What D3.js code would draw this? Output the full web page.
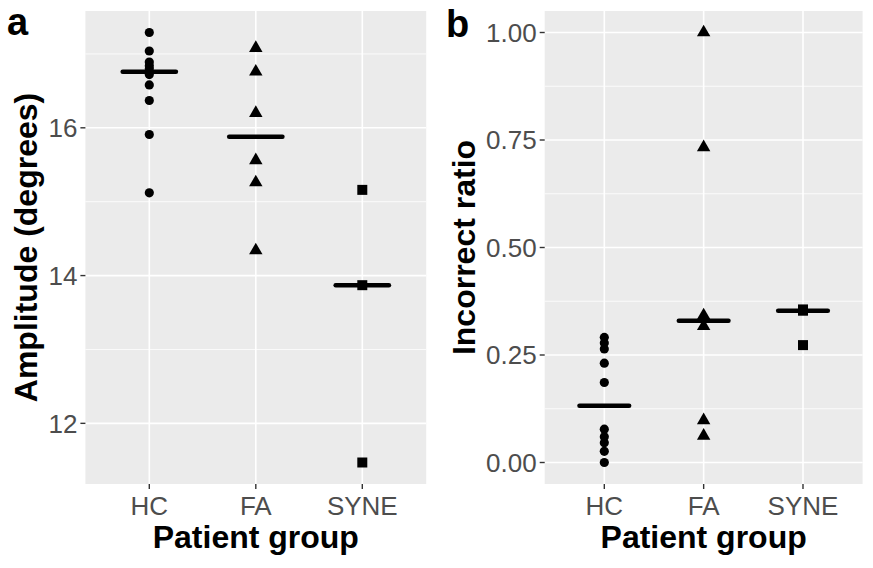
<!DOCTYPE html>
<html>
<head>
<meta charset="utf-8">
<script src="https://cdn.jsdelivr.net/npm/d3@7"></script>
<style>
  html, body { margin: 0; padding: 0; background: #fff; }
  svg { display: block; font-family: "Liberation Sans", Arial, Helvetica, sans-serif; }
</style>
</head>
<body>
<svg id="chart" width="873" height="568"></svg>
<script>
// ---- data ----
const groups = ["HC", "FA", "SYNE"];
const amplitudeHC = [17.29, 17.04, 16.89, 16.84, 16.80, 16.72, 16.58, 16.37, 15.91, 15.12];
const amplitudeFA = [17.08, 16.76, 16.20, 15.56, 15.26, 14.34];
const amplitudeSYNE = [15.16, 13.87, 11.47];
const ratioHC = [0.291, 0.278, 0.264, 0.231, 0.186, 0.0775, 0.060, 0.046, 0.026, 0.0];
const ratioFA = [1.0, 0.733, 0.342, 0.317, 0.098, 0.062];
const ratioSYNE = [0.356, 0.353, 0.273];
const amplitudeTicks = [12, 14, 16];
const amplitudeMinor = [13, 15, 17];
const ratioTicks = [0, 0.25, 0.5, 0.75, 1.0];
const ratioMinor = [0.125, 0.375, 0.625, 0.875];

const svg = d3.select("#chart");
const shapes = { HC: d3.symbolCircle, FA: d3.symbolTriangle, SYNE: d3.symbolSquare };
const sizes = { HC: 66, FA: 78, SYNE: 100 };

function panel(opts) {
  const { x0, x1, y0, y1, data, domain, ticks, minor, fmt, ytitle, ytitleX, label, labelX, labelY } = opts;
  const x = d3.scalePoint().domain(groups).range([x0, x1]).padding(0.6);
  const y = d3.scaleLinear().domain(domain).range([y1, y0]);
  const g = svg.append("g");
  g.append("rect").attr("x", x0).attr("y", y0).attr("width", x1 - x0).attr("height", y1 - y0).attr("fill", "#EBEBEB");
  // minor grid
  g.selectAll(".ming").data(minor).join("line")
    .attr("x1", x0).attr("x2", x1).attr("y1", d => y(d)).attr("y2", d => y(d))
    .attr("stroke", "#fff").attr("stroke-width", 0.8);
  // major grid
  g.selectAll(".majg").data(ticks).join("line")
    .attr("x1", x0).attr("x2", x1).attr("y1", d => y(d)).attr("y2", d => y(d))
    .attr("stroke", "#fff").attr("stroke-width", 1.6);
  g.selectAll(".xg").data(groups).join("line")
    .attr("x1", d => x(d)).attr("x2", d => x(d)).attr("y1", y0).attr("y2", y1)
    .attr("stroke", "#fff").attr("stroke-width", 1.6);
  // y axis ticks + labels
  g.selectAll(".yt").data(ticks).join("line")
    .attr("x1", x0 - 5).attr("x2", x0).attr("y1", d => y(d)).attr("y2", d => y(d))
    .attr("stroke", "#333").attr("stroke-width", 1.4);
  g.selectAll(".yl").data(ticks).join("text")
    .attr("x", x0 - 8).attr("y", d => y(d)).attr("dy", "0.36em")
    .attr("text-anchor", "end").attr("font-size", 26).attr("fill", "#4D4D4D")
    .text(fmt);
  // x axis ticks + labels
  g.selectAll(".xt").data(groups).join("line")
    .attr("x1", d => x(d)).attr("x2", d => x(d)).attr("y1", y1).attr("y2", y1 + 5)
    .attr("stroke", "#333").attr("stroke-width", 1.4);
  g.selectAll(".xl").data(groups).join("text")
    .attr("x", d => x(d)).attr("y", y1 + 31)
    .attr("text-anchor", "middle").attr("font-size", 26).attr("fill", "#4D4D4D")
    .text(d => d);
  // points
  groups.forEach(grp => {
    const vals = data[grp];
    g.selectAll(".p" + grp).data(vals).join("path")
      .attr("d", d3.symbol().type(shapes[grp]).size(sizes[grp]))
      .attr("transform", d => `translate(${x(grp)},${y(d)})`)
      .attr("fill", "#000");
    const med = d3.median(vals);
    const half = x.step() * 0.25;
    g.append("line")
      .attr("x1", x(grp) - half).attr("x2", x(grp) + half)
      .attr("y1", y(med)).attr("y2", y(med))
      .attr("stroke", "#000").attr("stroke-width", 4.5).attr("stroke-linecap", "round");
  });
  // titles
  g.append("text").attr("x", (x0 + x1) / 2).attr("y", 548)
    .attr("text-anchor", "middle").attr("font-size", 32).attr("font-weight", "bold")
    .attr("fill", "#000").text("Patient group");
  g.append("text").attr("transform", `translate(${ytitleX},${(y0 + y1) / 2}) rotate(-90)`)
    .attr("text-anchor", "middle").attr("font-size", 32).attr("font-weight", "bold")
    .attr("fill", "#000").text(ytitle);
  g.append("text").attr("x", labelX).attr("y", labelY)
    .attr("font-size", 38).attr("font-weight", "bold").attr("fill", "#000").text(label);
}

function expand(ext) {
  const r = ext[1] - ext[0];
  return [ext[0] - 0.05 * r, ext[1] + 0.05 * r];
}

const ampAll = amplitudeHC.concat(amplitudeFA, amplitudeSYNE);
panel({
  x0: 85.4, x1: 426.2, y0: 11, y1: 484,
  data: { HC: amplitudeHC, FA: amplitudeFA, SYNE: amplitudeSYNE },
  domain: expand(d3.extent(ampAll)),
  ticks: amplitudeTicks, minor: amplitudeMinor, fmt: d => d3.format("d")(d),
  ytitle: "Amplitude (degrees)", ytitleX: 37, label: "a", labelX: 7, labelY: 35
});

const ratioAll = ratioHC.concat(ratioFA, ratioSYNE);
panel({
  x0: 544.7, x1: 862.6, y0: 11, y1: 484,
  data: { HC: ratioHC, FA: ratioFA, SYNE: ratioSYNE },
  domain: expand(d3.extent(ratioAll)),
  ticks: ratioTicks, minor: ratioMinor, fmt: d => d3.format(".2f")(d),
  ytitle: "Incorrect ratio", ytitleX: 475, label: "b", labelX: 446, labelY: 37
});
</script>
</body>
</html>
